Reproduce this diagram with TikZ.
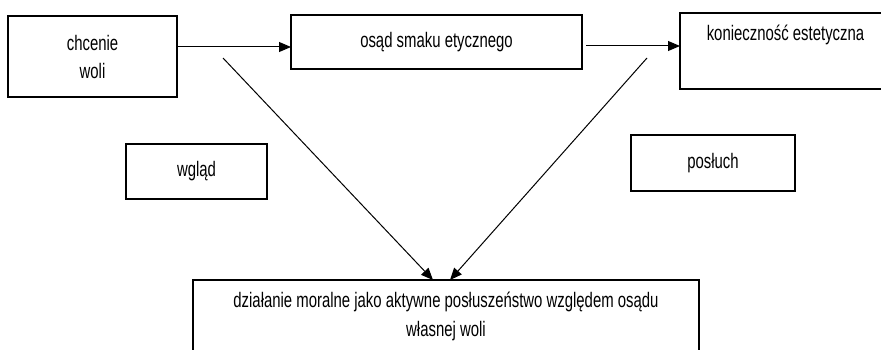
\documentclass[tikz,border=0pt]{standalone}
\usepackage{fontspec}
\setmainfont{Liberation Sans}[FakeStretch=0.71]
\usetikzlibrary{arrows.meta,calc}
\begin{document}
\begin{tikzpicture}[x=1pt,y=-1pt,
  box/.style={draw,line width=1.2pt,inner sep=0pt,outer sep=0pt,anchor=north west},
  arr/.style={line width=1pt,-{Triangle[length=12pt,width=10pt]}},
  font=\fontsize{21}{28}\selectfont]
\useasboundingbox (0,0) rectangle (881,350);
\fill[white] (0,0) rectangle (881,350);
\node[box] (b1) at (8,16) {\parbox[c][81pt][c]{169pt}{\centering chcenie\\woli}};
\node[box] (b2) at (291,15) {\parbox[c][54pt][c]{291pt}{\centering osąd smaku etycznego}};
\node[box] (b3) at (680,13) {\parbox[c][76pt][t]{211pt}{\centering\vspace*{12pt}konieczność estetyczna}};
\node[box] (b4) at (126,144) {\parbox[c][55pt][c]{141pt}{\centering wgląd}};
\node[box] (b5) at (631,135) {\parbox[c][56pt][c]{164pt}{\centering posłuch}};
\node[box] (b6) at (193,280) {\parbox[c][90pt][t]{506pt}{\centering\vspace*{12pt}działanie moralne jako aktywne posłuszeństwo względem osądu\\[1pt]własnej woli}};
\coordinate (s1) at (223,58);
\coordinate (s2) at (647,58);
\draw[arr] (b1.east |- 0,47) -- (b2.west |- 0,47);
\draw[arr] ($(b2.east|-0,46)+(4,0)$) -- (b3.west |- 0,46);
\draw[arr] (s1) -- (b6.north -| 433,0);
\draw[arr] (s2) -- (b6.north -| 450,0);
\end{tikzpicture}
\end{document}
